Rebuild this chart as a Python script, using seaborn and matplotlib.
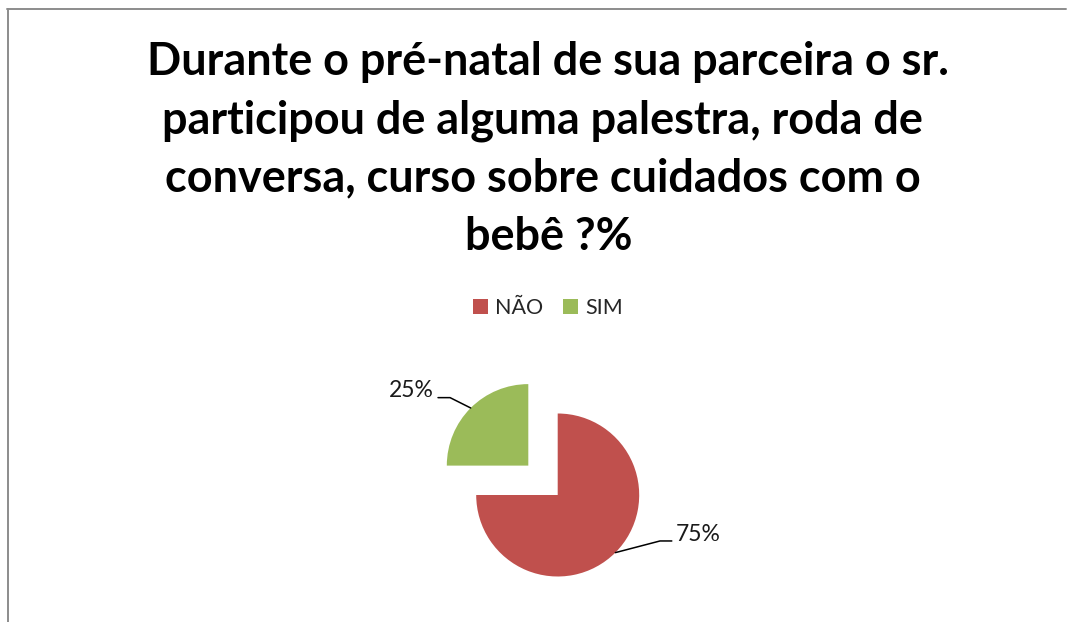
import matplotlib
matplotlib.use("Agg")
import matplotlib.pyplot as plt
import seaborn as sns
import numpy as np
from matplotlib.lines import Line2D

# Styling
sns.set_theme(style="white")
plt.rcParams["font.family"] = ["Lato", "DejaVu Sans"]

# Data
CATEGORIES = ["NÃO", "SIM"]
PERCENTS = [75, 25]
COLORS = ["#C0504D", "#9BBB59"]
EXPLODE = [0.0, 0.51]

TITLE_LINES = [
    "Durante o pré-natal de sua parceira o sr.",
    "participou de alguma palestra, roda de",
    "conversa, curso sobre cuidados com o",
    "bebê ?%",
]

W, H = 1067, 622
fig = plt.figure(figsize=(W / 100, H / 100), dpi=100)
fig.patch.set_facecolor("white")

# pie centre and radius in pixels
cx, cy, R = 557.7, 495.0, 81.5
ax = fig.add_axes([0, 0, 1, 1])
wedges, _ = ax.pie(
    PERCENTS,
    colors=COLORS,
    explode=EXPLODE,
    startangle=90,
    counterclock=False,
    wedgeprops=dict(linewidth=0),
)
ax.set_xlim(-cx / R, (W - cx) / R)
ax.set_ylim(-(H - cy) / R, cy / R)
ax.set_aspect("auto")
ax.axis("off")

# leader lines + percentage labels (elbow offset from wedge centre, text offset)
label_layout = [
    dict(elbow=(1.255, -0.564), end=1.40, text=(1.45, -0.49), ha="left"),
    dict(elbow=(-0.96, 0.834), end=-1.108, text=(-1.16, 0.92), ha="right"),
]
for w, pct, lay in zip(wedges, PERCENTS, label_layout):
    mid = np.deg2rad((w.theta1 + w.theta2) / 2)
    x0, y0 = w.center
    ex, ey = x0 + np.cos(mid), y0 + np.sin(mid)
    bx, by = x0 + lay["elbow"][0], y0 + lay["elbow"][1]
    ax.plot([ex, bx, x0 + lay["end"]], [ey, by, by], color="black", lw=1.1)
    ax.text(x0 + lay["text"][0], y0 + lay["text"][1], f"{pct}%",
            ha=lay["ha"], va="center", fontsize=16.5, color="#1a1a1a")

# Legend
fig.legend(
    wedges, CATEGORIES,
    loc="center", bbox_to_anchor=(548 / W, 1 - 308 / H),
    ncol=2, frameon=False, fontsize=15.5,
    handlelength=0.68, handleheight=0.68,
    handletextpad=0.32, columnspacing=0.95,
)

# Title lines
baselines = [75, 133.3, 191.6, 250]
centers = [547.5, 542.5, 542.5, 548.5]
for line, yb, xc in zip(TITLE_LINES, baselines, centers):
    fig.text(xc / W, 1 - yb / H, line, ha="center", va="baseline",
             fontsize=32.4, fontweight="bold", color="black")

# chart border (top and left visible)
border = dict(color="#8c8c8c", lw=1.4, transform=fig.transFigure)
fig.add_artist(Line2D([7 / W, 1066 / W], [1 - 9 / H, 1 - 9 / H], **border))
fig.add_artist(Line2D([7.5 / W, 7.5 / W], [0, 1 - 9 / H], **border))

fig.savefig("out.png", dpi=100, facecolor="white")
